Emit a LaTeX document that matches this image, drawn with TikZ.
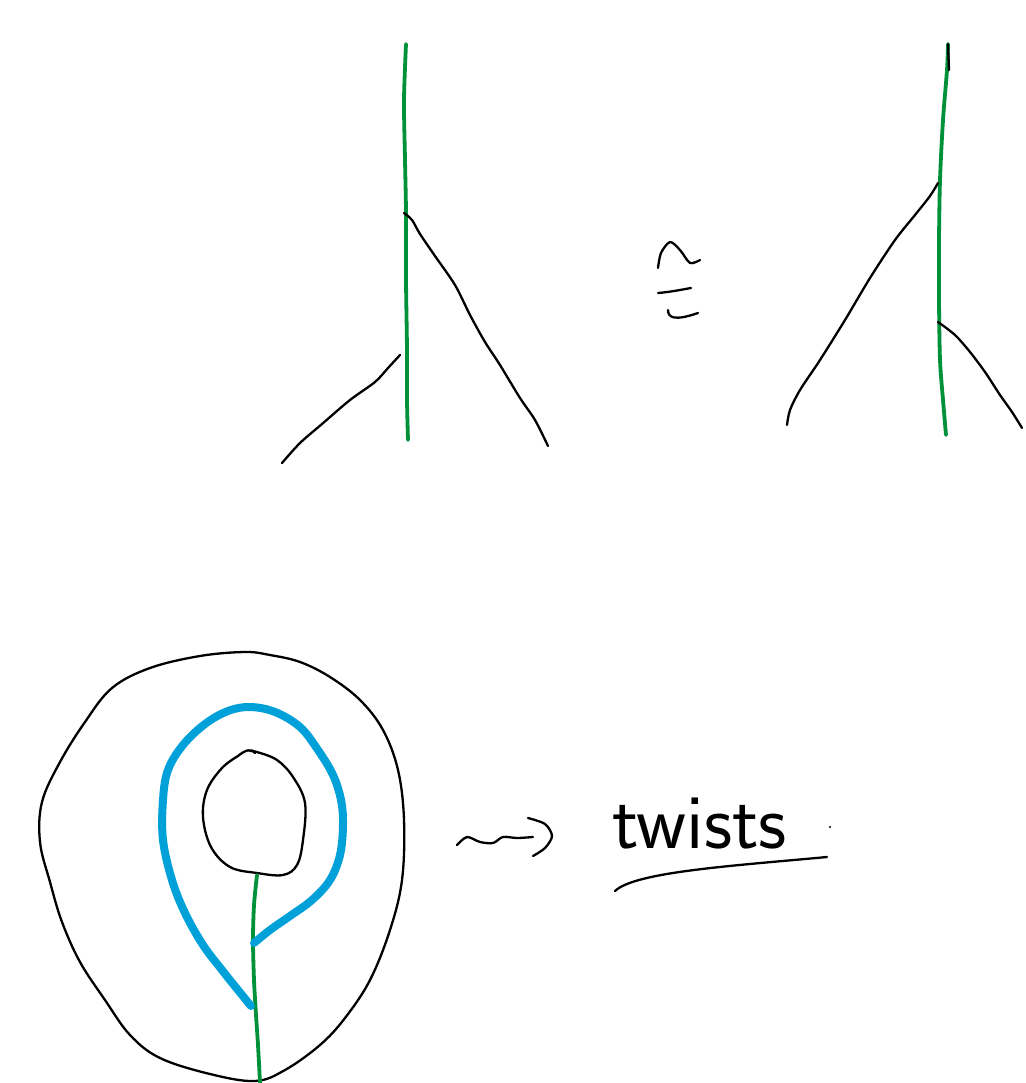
\documentclass[tikz,border=0pt]{standalone}
\usetikzlibrary{calc}
\definecolor{sgreen}{HTML}{00913A}
\definecolor{sblue}{HTML}{00A0D8}
\tikzset{
  ink/.style={black, line width=2.3pt, line cap=round, line join=round},
  greenline/.style={sgreen, line width=3.8pt, line cap=round, line join=round},
  blueline/.style={sblue, line width=8pt, line cap=round, line join=round},
}
\begin{document}
\begin{tikzpicture}[x=1pt,y=-1pt]
\useasboundingbox[fill=white] (0,0) rectangle (1025,1083);

% ---------- top left figure ----------
\draw[greenline] plot[smooth] coordinates {(406,44) (404,100) (405,160) (406,213) (406,280) (407,350) (407,400) (408,440)};
\draw[ink] plot[smooth] coordinates {(404,213) (412,220) (420,234) (435,256) (455,285) (470,315) (485,342) (500,365) (520,398) (535,420) (548,446)};
\draw[ink] plot[smooth] coordinates {(400,355) (388,368) (375,382) (350,400) (322,424) (300,443) (282,463)};

% ---------- equivalence sign ----------
\draw[ink] plot[smooth] coordinates {(658,268) (661,253) (670,242) (680,250) (690,263) (700,260)};
\draw[ink] (658,293) .. controls (670,292) and (680,290) .. (691,288);
\draw[ink] (668,310) .. controls (668,318) and (675,321) .. (698,313);

% ---------- top right figure ----------
\draw[greenline] plot[smooth] coordinates {(948,44) (947,70) (943,120) (940,180) (939,240) (939,300) (940,360) (943,400) (946,435)};
\draw[ink] (948,44) -- (949,70);
\draw[ink] plot[smooth] coordinates {(938,183) (930,196) (915,215) (895,240) (870,278) (845,320) (820,360) (800,390) (790,410) (787,425)};
\draw[ink] plot[smooth] coordinates {(938,322) (955,335) (970,352) (985,372) (1000,395) (1012,412) (1022,428)};

% ---------- annulus ----------
\draw[ink] plot[smooth cycle, tension=0.6] coordinates {(245,652) (200,656) (150,668) (112,688) (85,722) (60,762) (42,802) (40,842) (50,882) (62,922) (80,962) (105,1000) (130,1035) (160,1058) (210,1074) (255,1081) (285,1070) (320,1045) (345,1018) (370,980) (390,930) (402,880) (404,820) (398,770) (383,730) (360,700) (330,677) (300,662) (270,655)};
% inner hole
\draw[ink] plot[smooth, tension=0.6] coordinates {(238,756) (222,768) (207,790) (203,817) (211,847) (230,867) (257,873) (283,875) (297,865) (303,840) (305,803) (293,777) (277,760) (257,752) (250,751)};
\draw[ink] (238,756) .. controls (245,750) and (252,748) .. (255,753);
% green arc
\draw[greenline] plot[smooth] coordinates {(257,875) (254,905) (253,940) (254,980) (256,1015) (258,1045) (260,1083)};
% blue loop
\draw[blueline] plot[smooth, tension=0.6] coordinates {(251,1006) (238,990) (222,970) (203,945) (185,913) (172,880) (163,840) (163,800) (168,770) (183,745) (205,724) (228,711) (250,707) (275,712) (300,727) (318,750) (333,775) (341,800) (343,825) (340,855) (330,880) (312,900) (290,916) (270,930) (254,943)};

% ---------- squiggly arrow ----------
\draw[ink] plot[smooth] coordinates {(457,845) (467,837) (480,842) (493,843) (503,837) (517,838) (533,837)};
\draw[ink] plot[smooth] coordinates {(528,818) (545,824) (552,836) (545,848) (533,856)};

% ---------- twists ----------
\node[inner sep=0pt, anchor=base west, font=\sffamily\fontsize{78}{78}\selectfont] (tw) at (612,848) {twists};
\draw[ink] (615,891) .. controls (635,872) and (730,866) .. (827,857);
\fill (830,827) circle (1.2pt);
\end{tikzpicture}
\end{document}
